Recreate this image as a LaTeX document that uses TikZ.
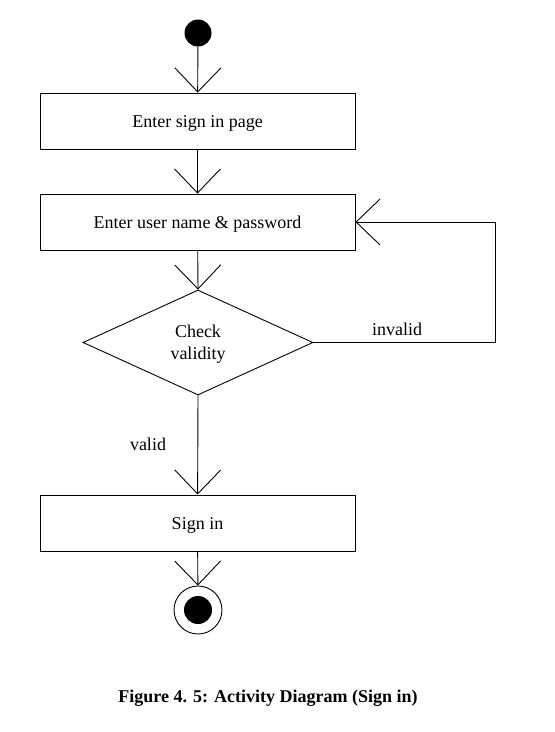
\documentclass[tikz,border=0pt]{standalone}
\usepackage{fontspec}
\setmainfont{Liberation Serif}
\usetikzlibrary{arrows.meta,shapes.geometric}
\begin{document}
\begin{tikzpicture}[x=1pt,y=-1pt,
  actbox/.style={draw,line width=0.9pt,minimum width=315pt,minimum height=56pt,inner sep=0pt,text height=16pt,text depth=4pt,font=\fontsize{18}{21}\selectfont},
  flow/.style={line width=0.9pt,-{Straight Barb[length=24pt,width=46pt,line width=0.9pt]}},
  lbl/.style={font=\fontsize{18}{22}\selectfont}]
\useasboundingbox[fill=white] (0,0) rectangle (555,732);
\node[circle,fill=black,minimum size=27pt,inner sep=0pt] (start) at (198,33) {};
\node[actbox] (b1) at (197.5,121) {Enter sign in page};
\node[actbox] (b2) at (197.5,222) {Enter user name \& password};
\node[diamond,draw,line width=0.9pt,minimum width=230pt,minimum height=105pt,inner sep=0pt,aspect=2.2] (d) at (198,342.5) {};
\node[lbl,align=center] (dt) at (198,344.5) {Check\\validity};
\node[actbox] (b3) at (197.5,523) {Sign in};
\node[circle,draw,line width=0.9pt,minimum size=48pt,inner sep=0pt] (end) at (198,610) {};
\node[circle,fill=black,minimum size=28pt,inner sep=0pt] at (end) {};
\draw[flow] (start) -- (b1);
\draw[flow] (b1) -- (b2);
\draw[flow] (b2) -- (d.north);
\draw[flow] (d.south) -- (b3);
\draw[flow] (b3) -- (end);
\coordinate (c1) at (495,342.5);
\coordinate (c2) at (495,222);
\draw[flow] (d.east) -- (c1) -- (c2) -- (b2.east);
\node[lbl] (inv) at (397,329) {invalid};
\node[lbl] (val) at (148,444) {valid};
\node[font=\bfseries\fontsize{18}{21}\selectfont] (cap) at (268,698) {Figure 4. 5: Activity Diagram (Sign in)};
\end{tikzpicture}
\end{document}
